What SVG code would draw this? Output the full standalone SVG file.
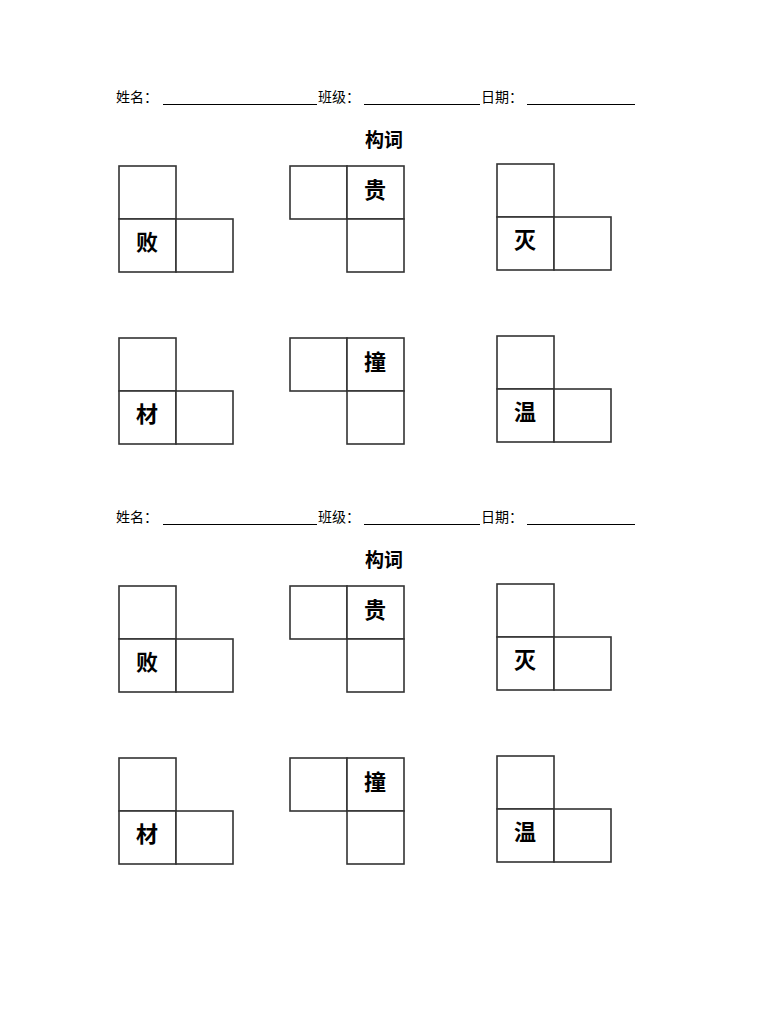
<svg xmlns="http://www.w3.org/2000/svg" width="768" height="1024" viewBox="0 0 768 1024">
<style>
.t{font-family:"Liberation Sans","Noto Sans CJK SC",sans-serif;font-size:14px;fill:#000}
.h{font-family:"Liberation Sans","Noto Sans CJK SC",sans-serif;font-size:19px;font-weight:bold;fill:#000;text-anchor:middle}
.c{font-family:"Liberation Sans","Noto Sans CJK SC",sans-serif;font-size:22px;font-weight:bold;fill:#000;text-anchor:middle}
.b{fill:#fff;stroke:#333;stroke-width:1.6}
.l{stroke:#000;stroke-width:1}
</style>
<defs>
<g id="sheet">
<text class="t" x="116" y="102">姓名：</text>
<line class="l" x1="163" y1="104.500" x2="317" y2="104.500"/>
<text class="t" x="318" y="102">班级：</text>
<line class="l" x1="364" y1="104.500" x2="480" y2="104.500"/>
<text class="t" x="481" y="102">日期：</text>
<line class="l" x1="527" y1="104.500" x2="635" y2="104.500"/>
<text class="h" x="384" y="147">构词</text>
</g>
<g id="A"><rect class="b" x="119" y="0" width="57" height="53"/><rect class="b" x="119" y="53" width="57" height="53"/><rect class="b" x="176" y="53" width="57" height="53"/></g>
<g id="B"><rect class="b" x="290" y="0" width="57" height="53"/><rect class="b" x="347" y="0" width="57" height="53"/><rect class="b" x="347" y="53" width="57" height="53"/></g>
<g id="C"><rect class="b" x="497" y="0" width="57" height="53"/><rect class="b" x="497" y="53" width="57" height="53"/><rect class="b" x="554" y="53" width="57" height="53"/></g>
</defs>
<rect width="768" height="1024" fill="#fff"/>
<g id="half1">
<use href="#sheet"/>
<g id="g1"><use href="#A" y="166"/><text class="c" x="147" y="250">败</text></g>
<g id="g2"><use href="#B" y="166"/><text class="c" x="375" y="198">贵</text></g>
<g id="g3"><use href="#C" y="164"/><text class="c" x="525" y="248">灭</text></g>
<g id="g4"><use href="#A" y="338"/><text class="c" x="147" y="422">材</text></g>
<g id="g5"><use href="#B" y="338"/><text class="c" x="375" y="370">撞</text></g>
<g id="g6"><use href="#C" y="336"/><text class="c" x="525" y="420">温</text></g>
</g>
<g id="half2" transform="translate(0,420)">
<use href="#sheet"/>
<g id="g7"><use href="#A" y="166"/><text class="c" x="147" y="250">败</text></g>
<g id="g8"><use href="#B" y="166"/><text class="c" x="375" y="198">贵</text></g>
<g id="g9"><use href="#C" y="164"/><text class="c" x="525" y="248">灭</text></g>
<g id="g10"><use href="#A" y="338"/><text class="c" x="147" y="422">材</text></g>
<g id="g11"><use href="#B" y="338"/><text class="c" x="375" y="370">撞</text></g>
<g id="g12"><use href="#C" y="336"/><text class="c" x="525" y="420">温</text></g>
</g>
</svg>
